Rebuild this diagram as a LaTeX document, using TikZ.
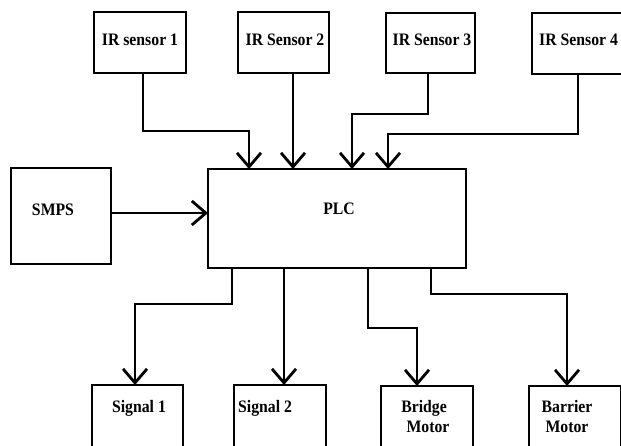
\documentclass[tikz,border=0pt]{standalone}
\usepackage{fontspec}
\setmainfont{Liberation Serif}[FakeStretch=0.9]
\usetikzlibrary{arrows.meta}
\begin{document}
\begin{tikzpicture}[x=1pt,y=-1pt,
  box/.style={draw,line width=2.8pt,rectangle,inner sep=0pt,outer sep=0pt},
  lbl/.style={inner sep=0pt,font=\fontsize{17.5}{20}\selectfont\bfseries,align=center},
  arr/.style={line width=2.8pt,-{Straight Barb[length=14pt,width=24pt]}}]
\useasboundingbox (0,0) rectangle (621,445);
% top sensors
\node[box,minimum width=92pt,minimum height=61pt] (ir1) at (140,42.5) {};
\node[lbl] (t1) at (140,40) {IR sensor 1};
\node[box,minimum width=91pt,minimum height=61pt] (ir2) at (283.5,42.5) {};
\node[lbl] (t2) at (285,40) {IR Sensor 2};
\node[box,minimum width=89pt,minimum height=60pt] (ir3) at (430.5,43) {};
\node[lbl] (t3) at (432,40) {IR Sensor 3};
\node[box,minimum width=91pt,minimum height=61pt] (ir4) at (577.5,43.5) {};
\node[lbl,anchor=west] (t4) at (539,40) {IR Sensor 4};
% middle
\node[box,minimum width=100pt,minimum height=96pt] (smps) at (61,216) {};
\node[lbl] (ts) at (53,210) {SMPS};
\node[box,minimum width=258pt,minimum height=99pt] (plc) at (337,218.5) {};
\node[lbl] (tp) at (339,209) {PLC};
% bottom outputs
\node[box,minimum width=91pt,minimum height=92pt,anchor=north] (sig1) at (137.5,385) {};
\node[lbl] (b1) at (139,408) {Signal 1};
\node[box,minimum width=92pt,minimum height=92pt,anchor=north] (sig2) at (280,385) {};
\node[lbl,anchor=west] (b2) at (238,408) {Signal 2};
\node[box,minimum width=92pt,minimum height=92pt,anchor=north] (brm) at (427,386) {};
\node[lbl] (b3) at (424,417) {Bridge\\\ \ Motor};
\node[box,minimum width=92pt,minimum height=92pt,anchor=north] (bam) at (575,386) {};
\node[lbl] (b4) at (567,417) {Barrier\\Motor};
% connectors into PLC
\draw[arr] (ir1.south -| 143,0) -- (143,131) -- (249,131) -- (plc.north -| 249,0);
\draw[arr] (ir2.south -| 293,0) -- (plc.north -| 293,0);
\draw[arr] (ir3.south -| 428,0) -- (428,114) -- (352,114) -- (plc.north -| 352,0);
\draw[arr] (ir4.south -| 578,0) -- (578,134) -- (388,134) -- (plc.north -| 388,0);
\draw[arr] (smps.east |- 0,213) -- (plc.west |- 0,213);
% connectors out of PLC
\draw[arr] (plc.south -| 232,0) -- (232,304) -- (135,304) -- (sig1.north -| 135,0);
\draw[arr] (plc.south -| 284,0) -- (sig2.north -| 284,0);
\draw[arr] (plc.south -| 368,0) -- (368,328) -- (417,328) -- (brm.north -| 417,0);
\draw[arr] (plc.south -| 431,0) -- (431,294) -- (567,294) -- (bam.north -| 567,0);
\end{tikzpicture}
\end{document}
